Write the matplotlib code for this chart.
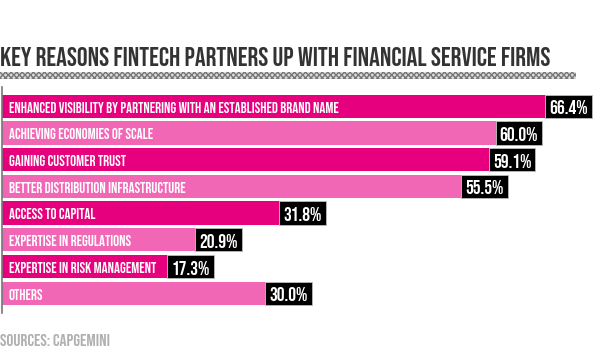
import matplotlib
matplotlib.use("Agg")
import matplotlib.pyplot as plt
from matplotlib.patches import Rectangle
from matplotlib import font_manager

# data
reasons = [
    "ENHANCED VISIBILITY BY PARTNERING WITH AN ESTABLISHED BRAND NAME",
    "ACHIEVING ECONOMIES OF SCALE",
    "GAINING CUSTOMER TRUST",
    "BETTER DISTRIBUTION INFRASTRUCTURE",
    "ACCESS TO CAPITAL",
    "EXPERTISE IN REGULATIONS",
    "EXPERTISE IN RISK MANAGEMENT",
    "OTHERS",
]
shares = [66.4, 60.0, 59.1, 55.5, 31.8, 20.9, 17.3, 30.0]
value_labels = ["66.4%", "60.0%", "59.1%", "55.5%", "31.8%", "20.9%", "17.3%", "30.0%"]

title = "KEY REASONS FINTECH PARTNERS UP WITH FINANCIAL SERVICE FIRMS"
source = "SOURCES: CAPGEMINI"

dark_pink = "#E6007E"
light_pink = "#F266B6"

# pick a condensed font if there is one
names = {f.name for f in font_manager.fontManager.ttflist}
font = "DejaVu Sans"
for cand in ["Bebas Neue", "Oswald", "Roboto Condensed", "Liberation Sans Narrow"]:
    if cand in names:
        font = cand
        break

fig = plt.figure(figsize=(6.0, 3.63), dpi=100)
W, H = 600, 363

# axes spans the gray vertical line
ax = fig.add_axes([1.5 / W, 1 - 313 / H, (W - 1.5) / W, (313 - 87) / H])

x_left = -4.3
x_right = 73.6
box_w = 6.1
bar_h = 0.87

for i, (name, v, lab) in enumerate(zip(reasons, shares, value_labels)):
    col = dark_pink if i % 2 == 0 else light_pink
    ax.barh(i, v - x_left, left=x_left, height=bar_h, color=col, linewidth=0)
    ax.barh(i, box_w, left=v, height=bar_h, color="black", edgecolor="#bbbbbb", linewidth=0.6)
    ax.text(x_left + 0.95, i + 0.03, name, color="white", fontsize=10.7,
            family=font, va="center", ha="left")
    ax.text(v + box_w / 2, i + 0.04, lab, color="white", fontsize=14,
            family=font, va="center", ha="center")

ax.set_xlim(x_left, x_right)
ax.set_ylim(len(shares) - 1 + 0.74, -0.72)
ax.set_xticks([])
ax.set_yticks([])
for s in ["top", "right", "bottom"]:
    ax.spines[s].set_visible(False)
ax.spines["left"].set_color("#777777")
ax.spines["left"].set_linewidth(1.2)

fig.text(0.0, 1 - 65.5 / H, title, fontsize=19.3, family=font,
         color="#333333", va="baseline", ha="left")

# hatched stripe under the title
stripe = Rectangle((0, 1 - 78.5 / H), 576 / W, 6 / H, transform=fig.transFigure,
                   facecolor="#dddddd", edgecolor="#777777", hatch="xxxxxx",
                   linewidth=0)
fig.patches.append(stripe)

fig.text(0.0, 1 - 345.5 / H, source, fontsize=12.5, family=font,
         color="#b0b0b0", va="baseline", ha="left")

fig.savefig("out.png", dpi=100)
